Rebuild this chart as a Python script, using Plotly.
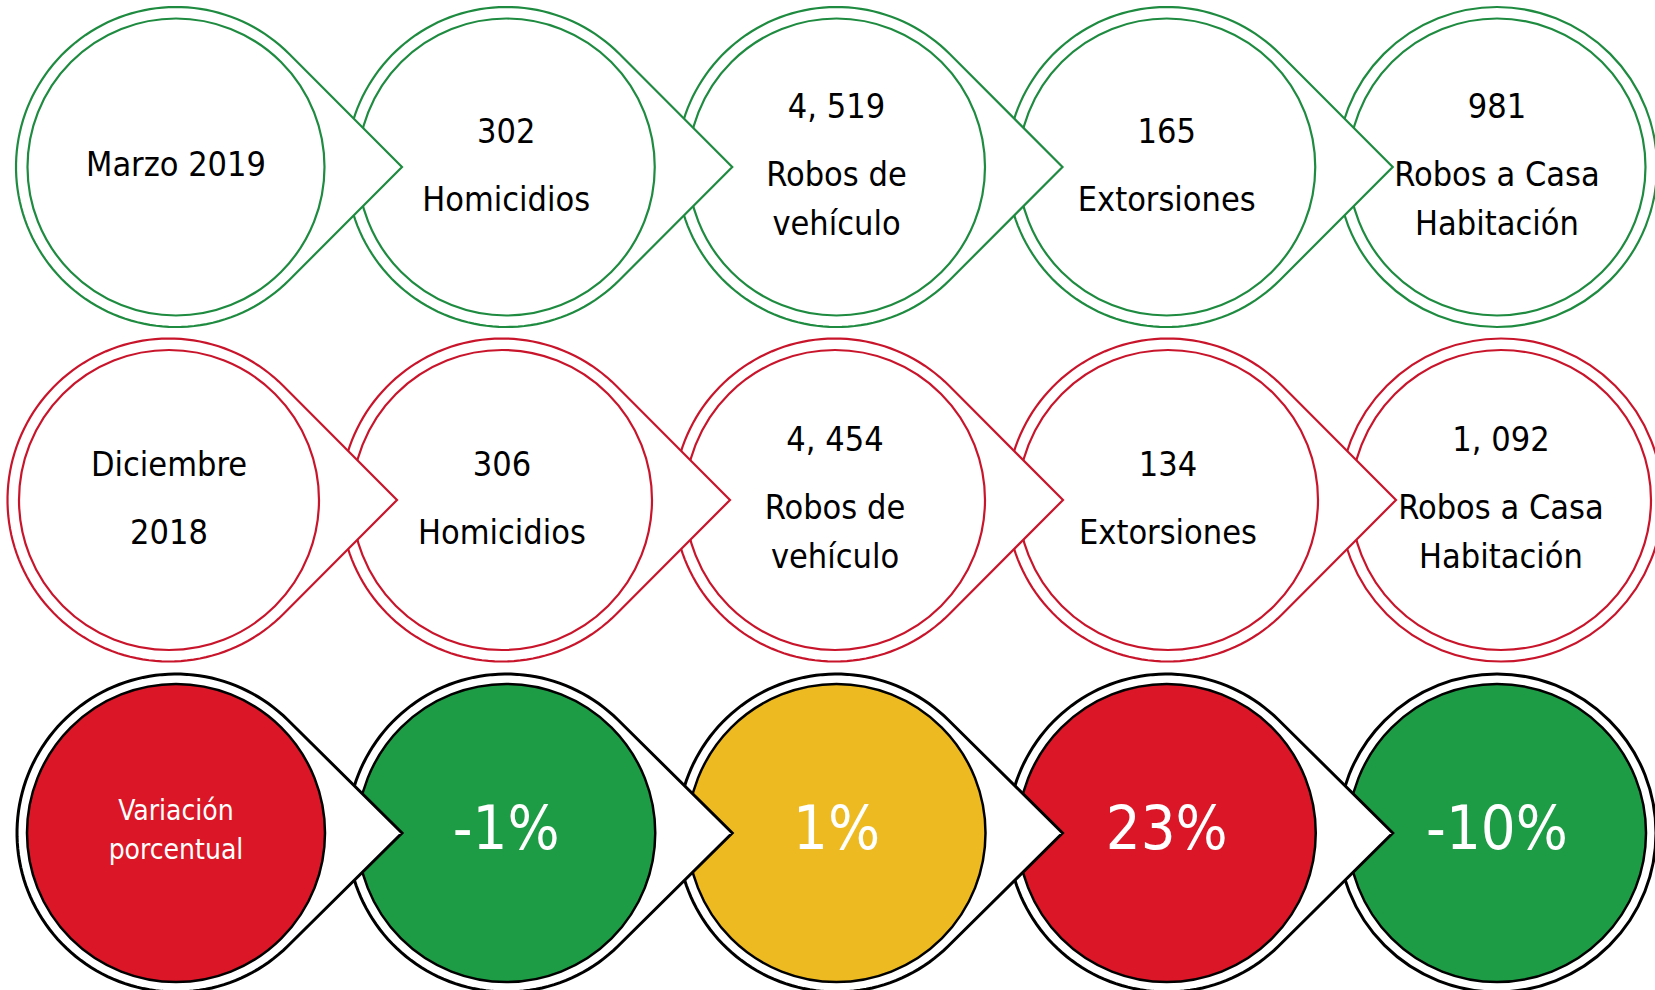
"""Infografía: delitos Marzo 2019 vs Diciembre 2018 y variación porcentual."""

import numpy as np
import plotly.graph_objects as go

# --- datos -----------------------------------------------------------------
delitos = ["Homicidios", "Robos de\nvehículo", "Extorsiones", "Robos a Casa\nHabitación"]
marzo_2019 = ["302", "4, 519", "165", "981"]
diciembre_2018 = ["306", "4, 454", "134", "1, 092"]
variacion = ["-1%", "1%", "23%", "-10%"]
color_variacion = ["#1D9C45", "#EDBB21", "#DA1627", "#1D9C45"]

periodo_actual = ["Marzo 2019"]
periodo_anterior = ["Diciembre", "2018"]
titulo_variacion = ["Variación", "porcentual"]

# --- estilo ----------------------------------------------------------------
W, H = 1655, 990
FONT = "DejaVu Sans Condensed, Liberation Sans Narrow, sans-serif"
T_NORMAL, T_VAR, T_PCT = 34, 28, 61
VERDE = "#1E8B40"
ROJO = "#C9152B"
NEGRO = "#000000"
ROJO_FONDO = "#DA1627"

# filas: centro x inicial, paso, centro y, radios, punta
FILAS = [
    dict(x0=176, paso=330.25, cy=167, r_ext=160, r_int=148.5, punta=226, linea=VERDE, ancho=2.2),
    dict(x0=169, paso=333.0, cy=500, r_ext=161.5, r_int=150, punta=228, linea=ROJO, ancho=2.2),
    dict(x0=176, paso=330.25, cy=833, r_ext=159, r_int=149, punta=226, linea=NEGRO, ancho=3),
]


def gota(cx, cy, r, punta, n=120):
    """Círculo con punta hacia la derecha (polilínea)."""
    a = np.arccos(r / punta)
    t = np.linspace(a, 2 * np.pi - a, n)
    xs = cx + r * np.cos(t)
    ys = cy + r * np.sin(t)
    pts = " L".join(f"{x:.2f},{y:.2f}" for x, y in zip(xs, ys))
    return f"M{pts} L{cx + punta:.2f},{cy:.2f} Z"


shapes = []
for k, fila in enumerate(FILAS):
    n = len(delitos) + 1
    centros = [fila["x0"] + i * fila["paso"] for i in range(n)]
    for i in reversed(range(n)):
        cx, cy = centros[i], fila["cy"]
        r, ri = fila["r_ext"], fila["r_int"]
        borde = dict(color=fila["linea"], width=fila["ancho"])
        if i < n - 1:
            shapes.append(dict(type="path", path=gota(cx, cy, r, fila["punta"]),
                               xref="x", yref="y", fillcolor="white", line=borde,
                               layer="below"))
        else:
            shapes.append(dict(type="circle", xref="x", yref="y",
                               x0=cx - r, x1=cx + r, y0=cy - r, y1=cy + r,
                               fillcolor="white", line=borde, layer="below"))
        if k == 2:
            relleno = ROJO_FONDO if i == 0 else color_variacion[i - 1]
            borde_int = dict(color=NEGRO, width=2.5)
        else:
            relleno = "white"
            borde_int = borde
        shapes.append(dict(type="circle", xref="x", yref="y",
                           x0=cx - ri, x1=cx + ri, y0=cy - ri, y1=cy + ri,
                           fillcolor=relleno, line=borde_int, layer="below"))

# --- textos ----------------------------------------------------------------
# plotly centra un poco por encima de la altura de mayúsculas -> pequeño ajuste
AJ = 0.1
tx, ty, tt = [], [], []


def bloque(cx, cy, numero, etiqueta):
    lineas = etiqueta.split("\n")
    y1 = cy + 32 - (len(lineas) - 1) * 49 / 2
    for j, ln in enumerate(lineas):
        tx.append(cx); ty.append(y1 + j * 49 + AJ * T_NORMAL); tt.append(ln)
    tx.append(cx); ty.append(y1 - 68 + AJ * T_NORMAL); tt.append(numero)


f1, f2, f3 = FILAS
tx.append(f1["x0"]); ty.append(f1["cy"] - 2.5 + AJ * T_NORMAL); tt.append(periodo_actual[0])
bloque(f2["x0"], f2["cy"], periodo_anterior[0], periodo_anterior[1])
for i, d in enumerate(delitos):
    bloque(f1["x0"] + (i + 1) * f1["paso"], f1["cy"], marzo_2019[i], d)
    bloque(f2["x0"] + (i + 1) * f2["paso"], f2["cy"], diciembre_2018[i], d)

fig = go.Figure()
fig.add_trace(go.Scatter(
    x=tx, y=ty, text=tt, mode="text", textposition="middle center",
    textfont=dict(family=FONT, size=T_NORMAL, color="black"),
    hoverinfo="skip", showlegend=False,
))
fig.add_trace(go.Scatter(
    x=[f3["x0"]] * 2,
    y=[f3["cy"] - 23 + AJ * T_VAR, f3["cy"] + 16 + AJ * T_VAR],
    text=titulo_variacion, mode="text", textposition="middle center",
    textfont=dict(family=FONT, size=T_VAR, color="white"),
    hoverinfo="skip", showlegend=False,
))
fig.add_trace(go.Scatter(
    x=[f3["x0"] + (i + 1) * f3["paso"] for i in range(len(variacion))],
    y=[f3["cy"] - 5.5 + AJ * T_PCT] * len(variacion), text=variacion,
    mode="text", textposition="middle center",
    textfont=dict(family=FONT, size=T_PCT, color="white"),
    hoverinfo="skip", showlegend=False,
))

fig.update_layout(
    width=W, height=H, margin=dict(l=0, r=0, t=0, b=0),
    paper_bgcolor="white", plot_bgcolor="white", shapes=shapes,
    xaxis=dict(range=[0, W], visible=False, fixedrange=True),
    yaxis=dict(range=[H, 0], visible=False, fixedrange=True),
    showlegend=False,
)
fig.write_html("out.html", config={"displayModeBar": False},
               post_script="document.body.style.margin='0px';")
